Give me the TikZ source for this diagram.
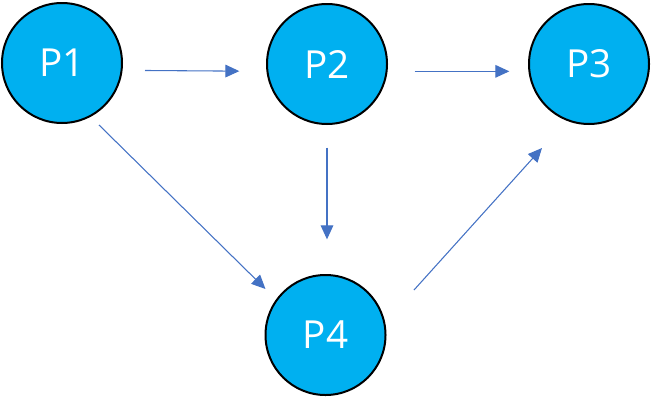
\documentclass[tikz,border=0pt]{standalone}
\usepackage{fontspec}
\setmainfont{Open Sans}
\usetikzlibrary{arrows.meta}
\definecolor{procfill}{HTML}{00B0F0}
\definecolor{arrowblue}{HTML}{4472C4}
\begin{document}
\begin{tikzpicture}[x=0.75pt, y=-0.75pt,
  proc/.style={circle, draw=black, line width=1.5pt, fill=procfill, minimum size=90pt,
    inner sep=0pt, text=white, font=\fontsize{29}{34}\selectfont},
  arr/.style={draw=arrowblue, line width=0.8pt, -{Triangle[length=10.5pt, width=9.5pt]}}]
\useasboundingbox (0,0) rectangle (652,397);
% processes
\node[proc] (P1) at (62,63) {P1};
\node[proc] (P2) at (327,64) {P2};
\node[proc] (P3) at (589,64) {P3};
\node[proc] (P4) at (325.5,335) {P4};
% top row
\draw[arr, shorten <=16.5pt, shorten >=20pt] ([yshift=-5.5pt]P1.east) -- ([yshift=-5.5pt]P2.west);
\draw[arr, shorten <=20pt, shorten >=14pt] ([yshift=-5.5pt]P2.east) -- ([yshift=-5.5pt]P3.west);
% down to P4
\draw[arr, shorten <=17pt, shorten >=26pt] (P2.south) -- (P2.south |- P4.north);
\draw[arr] ([shift={(37,62)}]P1.center) -- ([shift={(-60,-46)}]P4.center);
% up to P3
\draw[arr] ([shift={(88.5,-45)}]P4.center) -- ([shift={(-47,84)}]P3.center);
\end{tikzpicture}
\end{document}
